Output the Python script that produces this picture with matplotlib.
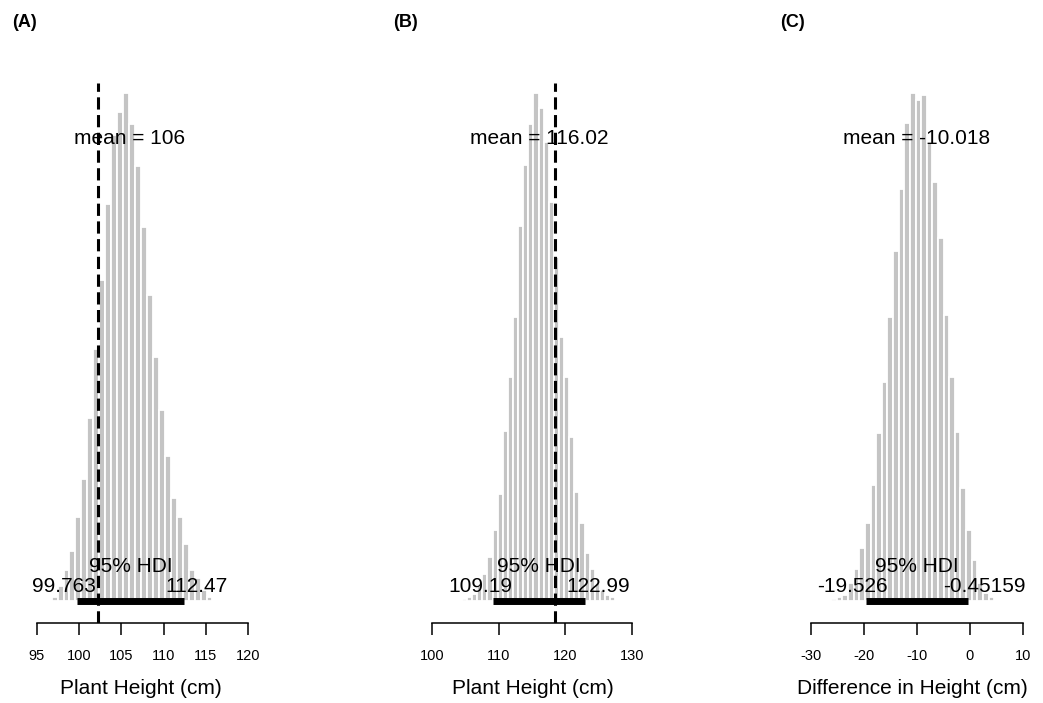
import matplotlib
matplotlib.use('Agg')
import matplotlib.pyplot as plt
import matplotlib.transforms as mtransforms
import numpy as np

plt.rcParams['font.family'] = ['Liberation Sans', 'DejaVu Sans']

# histogram bins (left edge of first bin, bin width) and bar densities
a_start, a_width = 96.73, 0.706
a_dens = [0.001, 0.004, 0.008, 0.013, 0.022, 0.032, 0.048, 0.066, 0.084, 0.104, 0.122, 0.128, 0.133,
          0.125, 0.114, 0.098, 0.080, 0.064, 0.050, 0.038, 0.027, 0.022, 0.015, 0.008, 0.006, 0.003, 0.001]
b_start, b_width = 104.48, 0.767
b_dens = [0.0005, 0.001, 0.0017, 0.0039, 0.0065, 0.0106, 0.0171, 0.0258, 0.041, 0.054, 0.0685, 0.0904,
          0.1052, 0.1151, 0.1225, 0.1189, 0.1107, 0.0962, 0.083, 0.0637, 0.054, 0.0396, 0.0263, 0.0188,
          0.0116, 0.0077, 0.0043, 0.0027, 0.0014, 0.001]
c_start, c_width = -26.17, 1.06
c_dens = [0.0003, 0.0006, 0.001, 0.0029, 0.0051, 0.0085, 0.0125, 0.0185, 0.0268, 0.035, 0.0453, 0.0559,
          0.0658, 0.0763, 0.0811, 0.080, 0.0808, 0.0733, 0.0669, 0.0579, 0.0457, 0.0358, 0.027, 0.018,
          0.0113, 0.0065, 0.0029, 0.0013, 0.0006]

means = [106, 116.02, -10.018]
mean_labels = ['106', '116.02', '-10.018']
hdi_lo = [99.763, 109.19, -19.526]
hdi_hi = [112.47, 122.99, -0.45159]
hdi_lo_labels = ['99.763', '109.19', '-19.526']
hdi_hi_labels = ['112.47', '122.99', '-0.45159']
ref_lines = [102.2, 118.5, None]
ticks = [[95, 100, 105, 110, 115, 120], [100, 110, 120, 130], [-30, -20, -10, 0, 10]]
xlabels = ['Plant Height (cm)', 'Plant Height (cm)', 'Difference in Height (cm)']
panel_tags = ['(A)', '(B)', '(C)']

fig = plt.figure(figsize=(10.43, 7.03), dpi=100)
renderer = fig.canvas.get_renderer()

ax_rects = [[0.0192, 0.1138, 0.2320, 0.768],
            [0.3931, 0.1138, 0.2349, 0.768],
            [0.7574, 0.1138, 0.2349, 0.768]]
xlims = [(92.99, 121.66), (96.7, 133.45), (-33.96, 12.26)]
tag_x = [0.012, 0.377, 0.748]

hists = [(a_start, a_width, a_dens), (b_start, b_width, b_dens), (c_start, c_width, c_dens)]


def anchored_text(ax, x, y, s, frac):
    # R style adj: frac of the text width sits left of x
    t = ax.text(x, y, s, ha='left', va='center', fontsize=15)
    w = t.get_window_extent(renderer=renderer).width
    t.set_transform(ax.transData + mtransforms.ScaledTranslation(-frac * w / fig.dpi, 0, fig.dpi_scale_trans))
    return t


for i in range(3):
    ax = fig.add_axes(ax_rects[i])
    start, width, dens = hists[i]
    dens = np.array(dens)
    lefts = start + width * np.arange(len(dens))
    ax.bar(lefts, dens, width=width, align='edge', color='#c4c4c4', edgecolor='white', linewidth=1.3)
    peak = dens.max()
    ax.set_ylim(-0.0433 * peak, 1.0197 * peak)
    ax.set_xlim(*xlims[i])

    # HDI bar
    ax.plot([hdi_lo[i], hdi_hi[i]], [0, 0], color='black', lw=5, solid_capstyle='butt')

    if ref_lines[i] is not None:
        ax.axvline(ref_lines[i], color='black', lw=2.2, ls=(0, (4, 1.8)))

    ax.text(means[i], 0.911 * peak, 'mean = ' + mean_labels[i], ha='center', va='center', fontsize=15)
    ax.text((hdi_lo[i] + hdi_hi[i]) / 2, 0.067 * peak, '95% HDI', ha='center', va='center', fontsize=15)
    anchored_text(ax, hdi_lo[i], 0.0276 * peak, hdi_lo_labels[i], 0.7)
    anchored_text(ax, hdi_hi[i], 0.0276 * peak, hdi_hi_labels[i], 0.3)

    for s in ['left', 'right', 'top']:
        ax.spines[s].set_visible(False)
    ax.spines['bottom'].set_bounds(ticks[i][0], ticks[i][-1])
    ax.spines['bottom'].set_linewidth(1.1)
    ax.set_yticks([])
    ax.set_xticks(ticks[i])
    ax.set_xticklabels([str(t) for t in ticks[i]])
    ax.tick_params(axis='x', length=8.5, width=1.1, labelsize=10.5, pad=10)
    ax.set_xlabel(xlabels[i], fontsize=15, labelpad=12)
    ax.patch.set_alpha(0)

    fig.text(tag_x[i], 0.968, panel_tags[i], fontsize=13, fontweight='bold', va='center', ha='left')

fig.savefig('out.png', dpi=100)
